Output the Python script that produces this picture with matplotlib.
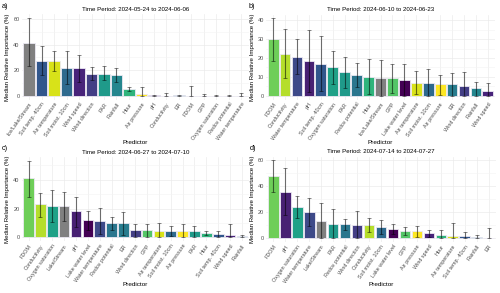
import matplotlib.pyplot as plt
import numpy as np

plt.rcParams['font.family'] = ['Liberation Sans', 'DejaVu Sans']

colors = {
    'FDOM': '#6ece58', 'Conductivity': '#b5de2b', 'Water temperature': '#3e4a89',
    'pH': '#482173', 'Soil temp. 40cm': '#31568c', 'Oxygen saturation': '#1fa187',
    'PAR': '#1f9a8a', 'Redox potential': '#2a768e', 'Hour': '#2fb47c',
    'Ice/Lake/Stream': '#808080', 'Lake/Stream': '#808080', 'GPP': '#54c568',
    'Lake water level': '#440154', 'Air temperature': '#d8e219',
    'Soil moist. 10cm': '#2e6a8e', 'Air pressure': '#fde725', 'ER': '#287c8e',
    'Wind direction': '#433e85', 'Wind speed': '#48237a', 'Rainfall': '#24868e',
}

# panel a
a_names = ['Ice/Lake/Stream', 'Soil temp. 40cm', 'Air temperature', 'Soil moist. 10cm',
           'Wind speed', 'Wind direction', 'PAR', 'Rainfall', 'Hour', 'Air pressure', 'pH',
           'Conductivity', 'ER', 'FDOM', 'GPP', 'Oxygen saturation', 'Redox potential',
           'Water temperature']
a_med = [41.6, 27.2, 26.9, 22.0, 21.7, 17.0, 17.0, 16.2, 5.0, 1.3, 0.2, 0.0, 0.3, 0.0, 0.0, 0.0, 0.0, 0.0]
a_lo = [23.5, 16.0, 19.0, 9.0, 11.0, 12.5, 12.0, 10.5, 3.5, 0.0, 0.0, 0.0, 0.0, 0.0, 0.0, 0.0, 0.0, 0.0]
a_hi = [60.7, 38.7, 35.0, 35.0, 31.5, 22.5, 23.0, 22.0, 7.0, 6.5, 0.5, 2.5, 0.5, 7.5, 1.5, 0.3, 0.3, 2.0]

# panel b
b_names = ['FDOM', 'Conductivity', 'Water temperature', 'pH', 'Soil temp. 40cm',
           'Oxygen saturation', 'PAR', 'Redox potential', 'Hour', 'Ice/Lake/Stream', 'GPP',
           'Lake water level', 'Air temperature', 'Soil moist. 10cm', 'Air pressure', 'ER',
           'Wind direction', 'Rainfall', 'Wind speed']
b_med = [29.9, 22.3, 20.7, 18.6, 17.0, 15.0, 12.4, 11.0, 10.1, 9.4, 9.4, 8.3, 6.9, 6.7, 6.4, 6.2, 5.3, 4.1, 2.6]
b_lo = [18.3, 9.3, 11.5, 2.0, 2.3, 6.0, 4.0, 4.5, 0.8, 0.0, 1.5, 0.0, 1.0, 0.0, 0.5, 0.0, 0.0, 0.0, 0.0]
b_hi = [41.0, 35.5, 30.0, 35.0, 31.8, 23.5, 20.5, 17.3, 19.3, 19.0, 16.8, 16.7, 13.0, 14.0, 11.0, 12.0, 12.5, 7.3, 7.0]

# panel c
c_names = ['FDOM', 'Conductivity', 'Oxygen saturation', 'Lake/Stream', 'pH', 'Lake water level',
           'Water temperature', 'Redox potential', 'ER', 'Wind direction', 'GPP', 'Air temperature',
           'Soil moist. 10cm', 'Air pressure', 'PAR', 'Hour', 'Soil temp. 40cm', 'Wind speed',
           'Rainfall']
c_med = [41.2, 23.1, 22.0, 21.5, 18.0, 11.8, 11.6, 10.0, 9.7, 5.3, 4.9, 4.6, 4.6, 4.6, 4.2, 2.8, 2.3, 1.8, 0.7]
c_lo = [28.0, 14.5, 10.5, 11.5, 7.0, 5.0, 2.5, 5.5, 2.0, 0.5, 0.0, 0.0, 1.0, 0.0, 0.0, 1.5, 0.5, 0.0, 0.0]
c_hi = [53.0, 31.0, 33.0, 31.5, 28.0, 18.5, 20.3, 14.0, 17.5, 9.0, 9.0, 10.0, 8.0, 9.0, 8.0, 4.5, 4.5, 9.3, 2.0]

# panel d
d_names = ['FDOM', 'pH', 'Oxygen saturation', 'Water temperature', 'Lake/Stream', 'PAR',
           'Redox potential', 'Wind direction', 'Conductivity', 'Soil moist. 10cm',
           'Lake water level', 'GPP', 'Air pressure', 'Wind speed', 'Hour', 'Air temperature',
           'Soil temp. 40cm', 'Rainfall', 'ER']
d_med = [47.3, 35.5, 23.5, 20.0, 13.0, 11.0, 10.7, 10.2, 9.7, 8.2, 6.9, 5.6, 5.4, 3.6, 2.6, 1.8, 1.3, 0.8, 0.0]
d_lo = [35.0, 17.5, 15.5, 9.5, 0.0, 0.0, 6.5, 0.0, 4.5, 3.0, 3.0, 2.0, 1.0, 0.5, 0.0, 0.0, 0.0, 0.0, 0.0]
d_hi = [59.5, 53.5, 32.0, 30.5, 26.5, 22.5, 14.5, 20.5, 15.0, 13.5, 10.5, 8.5, 9.5, 6.5, 6.5, 11.3, 4.5, 2.5, 8.0]

panels = [
    ('a)', 'Time Period: 2024-05-24 to 2024-06-06', a_names, a_med, a_lo, a_hi, [0, 20, 40, 60]),
    ('b)', 'Time Period: 2024-06-10 to 2024-06-23', b_names, b_med, b_lo, b_hi, [0, 10, 20, 30, 40]),
    ('c)', 'Time Period: 2024-06-27 to 2024-07-10', c_names, c_med, c_lo, c_hi, [0, 20, 40]),
    ('d)', 'Time Period: 2024-07-14 to 2024-07-27', d_names, d_med, d_lo, d_hi, [0, 20, 40, 60]),
]

W, H = 500, 293
# axes boxes in pixels: left, right, top, bottom
boxes = [(21.5, 249, 14.3, 99.6), (266, 495, 14.5, 99.6),
         (21.5, 249, 157, 241.3), (266, 496, 156.5, 241.9)]
tag_pos = [(2, 6), (249, 6), (2, 149), (250, 149)]
xlab_y = [143, 143, 284, 284]

fig = plt.figure(figsize=(W / 100, H / 100), dpi=100)
for (tag, title, names, med, lo, hi, yt), (l, r, t, b), (tx, ty), xy in zip(panels, boxes, tag_pos, xlab_y):
    ax = fig.add_axes([l / W, 1 - b / H, (r - l) / W, (b - t) / H])
    x = np.arange(len(names))
    med = np.array(med)
    yerr = [med - np.array(lo), np.array(hi) - med]
    ax.set_axisbelow(True)
    ax.bar(x, med, width=0.9, color=[colors[n] for n in names],
           edgecolor='#ece9f3', linewidth=0.6, zorder=2)
    ax.errorbar(x, med, yerr=yerr, fmt='none', ecolor='black', alpha=0.55,
                elinewidth=0.8, capsize=1.3, capthick=0.6, zorder=3)
    top = max(hi)
    ax.set_ylim(-0.05 * top, top * 1.05)
    ax.set_xlim(-0.6, len(names) - 0.4)
    ax.set_yticks(yt)
    step = yt[1] - yt[0]
    ax.set_yticks(np.arange(step / 2, top * 1.05, step), minor=True)
    ax.set_xticks(x)
    ax.set_xticklabels(names, rotation=55, ha='right', va='top', rotation_mode='anchor',
                       fontsize=3.9, color='#4d4d4d')
    ax.tick_params(axis='y', labelsize=4.0, labelcolor='#4d4d4d', length=0, pad=1.5)
    ax.tick_params(axis='x', length=0, pad=1.5)
    ax.tick_params(which='minor', length=0)
    ax.grid(True, which='major', color='#ebebeb', linewidth=0.5)
    ax.grid(True, which='minor', axis='y', color='#f4f4f4', linewidth=0.4)
    for s in ax.spines.values():
        s.set_visible(False)
    ax.set_title(title, fontsize=4.4, pad=2.5)
    ax.set_ylabel('Median Relative Importance (%)', fontsize=4.4, labelpad=2)
    fig.text((l + r) / 2 / W, 1 - xy / H, 'Predictor', fontsize=4.6, ha='center', va='center')
    fig.text(tx / W, 1 - ty / H, tag, fontsize=5.2, ha='left', va='center')

fig.savefig('out.png', dpi=100)
